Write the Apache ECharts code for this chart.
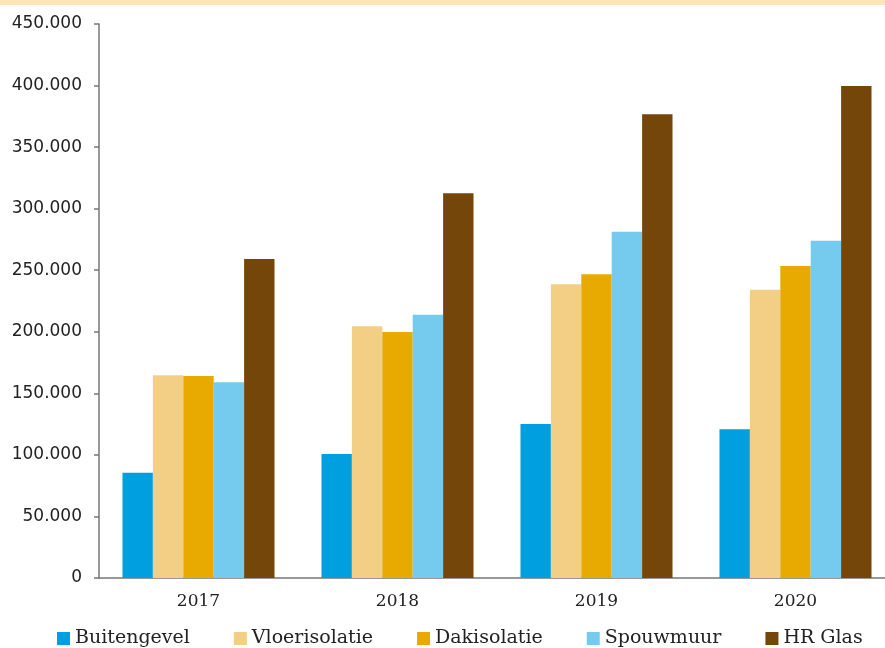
<!DOCTYPE html>
<html>
<head>
<meta charset="utf-8">
<script src="https://cdn.jsdelivr.net/npm/echarts@6/dist/echarts.min.js"></script>
<style>
    html, body { margin: 0; padding: 0; background: #fff; }
    #main { width: 885px; height: 648px; }
</style>
</head>
<body>
<div id="main"></div>
<script type="text/javascript">
    var years = ['2017', '2018', '2019', '2020'];
    var buitengevel = [85500, 100700, 125100, 120800];
    var vloerisolatie = [164700, 204400, 238600, 234200];
    var dakisolatie = [164100, 199800, 246700, 253400];
    var spouwmuur = [159000, 213900, 281300, 274000];
    var hrGlas = [259100, 312500, 376700, 399700];

    var myChart = echarts.init(document.getElementById('main'));

    // duizendtallen met een punt, zoals in het origineel
    function fmt(v) {
        return String(v).replace(/\B(?=(\d{3})+(?!\d))/g, '.');
    }

    function bar(name, data, color) {
        return {
            name: name,
            type: 'bar',
            data: data,
            barGap: '0%',
            barCategoryGap: '23.6%',
            itemStyle: { color: color }
        };
    }

    var option = {
        animation: false,
        graphic: [{
            type: 'rect',
            left: 0, top: 0,
            shape: { width: 885, height: 5 },
            style: { fill: '#fce5b6' }
        }],
        legend: {
            left: 52,
            top: 624,
            itemWidth: 13,
            itemHeight: 13,
            itemGap: 44,
            icon: 'rect',
            textStyle: { fontFamily: 'DejaVu Serif', fontSize: 19, color: '#222' },
            data: ['Buitengevel', 'Vloerisolatie', 'Dakisolatie', 'Spouwmuur', 'HR Glas']
        },
        // grid loopt rechts iets buiten beeld door, net als in het origineel
        grid: { left: 99, width: 796, top: 24, bottom: 70, outerBoundsMode: 'none' },
        xAxis: {
            type: 'category',
            data: years,
            axisLine: { lineStyle: { color: '#777', width: 1.5 } },
            axisTick: { length: 5, lineStyle: { color: '#777', width: 1.5 } },
            axisLabel: { fontFamily: 'DejaVu Serif', fontSize: 17, color: '#222', margin: 15 }
        },
        yAxis: {
            type: 'value',
            min: 0,
            max: 450000,
            interval: 50000,
            splitLine: { show: false },
            axisLine: { show: true, lineStyle: { color: '#777', width: 1.5 } },
            axisTick: { show: true, length: 5, lineStyle: { color: '#777', width: 1.5 } },
            axisLabel: { fontFamily: 'DejaVu Sans', fontSize: 17, color: '#222', margin: 17, formatter: fmt }
        },
        series: [
            bar('Buitengevel', buitengevel, '#009fe0'),
            bar('Vloerisolatie', vloerisolatie, '#f3cf85'),
            bar('Dakisolatie', dakisolatie, '#e8aa00'),
            bar('Spouwmuur', spouwmuur, '#75cbee'),
            bar('HR Glas', hrGlas, '#75460a')
        ]
    };

    myChart.setOption(option);
</script>
</body>
</html>
